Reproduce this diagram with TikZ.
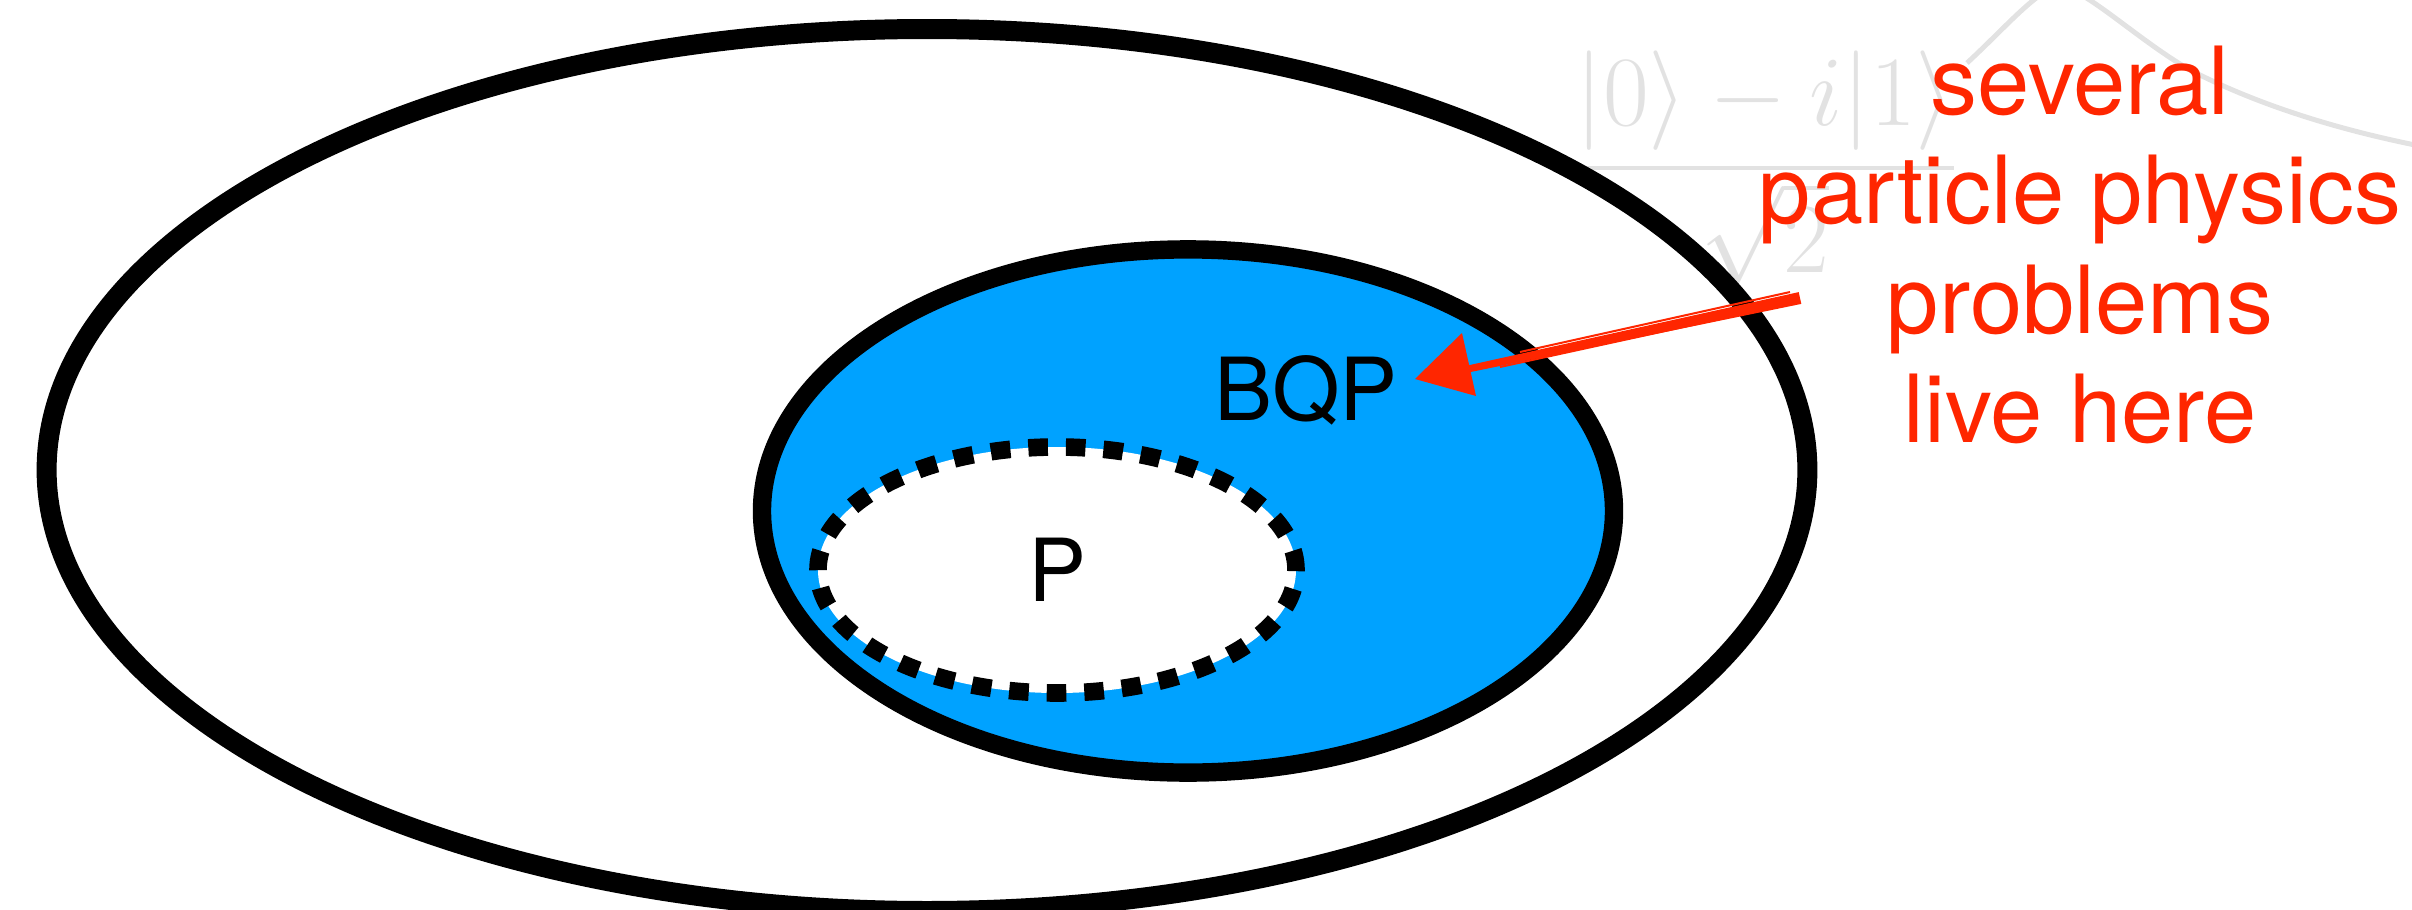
\documentclass[tikz,border=0pt]{standalone}
\usepackage{amsmath}
\usepackage[no-math]{fontspec}
\setmainfont{TeX Gyre Heros}
\definecolor{qblue}{RGB}{0,162,255}
\definecolor{qred}{RGB}{255,38,0}
\definecolor{ghostgray}{RGB}{226,226,226}
\tikzset{
  setline/.style={draw=black, line width=5pt},
  bqpline/.style={draw=black, line width=4.6pt, fill=qblue},
  pline/.style={draw=black, line width=4.4pt, dash pattern=on 4.9pt off 4.5pt, line cap=butt},
  classlabel/.style={inner sep=0pt, font=\fontsize{21.75pt}{26pt}\selectfont, text=black},
  notetext/.style={inner sep=0pt, anchor=base, font=\fontsize{23.5pt}{27.4pt}\selectfont, text=qred},
  ghosttext/.style={inner sep=0pt, anchor=base, text=ghostgray, font=\fontsize{26.5pt}{32pt}\selectfont},
}
\begin{document}
\begin{tikzpicture}[x=0.25pt,y=-0.25pt]
\useasboundingbox (0,0) rectangle (2412,910);
\begin{scope}
\clip (0,0) rectangle (2412,910);
% faint background remnants
\node[ghosttext] (ghost) at (1765,193) {$\dfrac{|0\rangle - i|1\rangle}{\sqrt{2}}$};
\draw[ghostgray, line width=1.25pt] (1967,63) .. controls (2005,28) and (2035,-8) .. (2058,-14)
  .. controls (2085,-12) and (2135,38) .. (2190,70)
  .. controls (2260,106) and (2340,130) .. (2420,146);
% outer set
\draw[setline] (927,470) ellipse [x radius=220.1pt, y radius=110.25pt];
\end{scope}
% BQP
\draw[bqpline] (1188,511) ellipse [x radius=106.5pt, y radius=65.4pt];
% P
\fill[white] (1057,570) ellipse [x radius=59.75pt, y radius=30.75pt];
\draw[pline] (1057,570) ellipse [x radius=59.75pt, y radius=30.75pt];
\node[classlabel] (P) at (1058,570) {P};
\node[classlabel] (BQP) at (1306,390) {BQP};
% note
\node[notetext] (l1) at (2080,114) {several};
\node[notetext] (l2) at (2080,223) {particle physics};
\node[notetext] (l3) at (2080,333) {problems};
\node[notetext] (l4) at (2080,442) {live here};
% arrow
\coordinate (arrowtail) at (1800,298);
\coordinate (arrowjoin) at (1468,369);
\coordinate (arrowtip) at (1415,379);
\fill[qred] (1801.3,303.9) -- (1798.7,292.1) -- (1467.2,365.6) -- (1468.8,372.4) -- cycle;
\draw[qred, line width=0.5pt] (1790,292) -- (1520,352);
\draw[qred, line width=0.5pt] (1780,306) -- (1500,367);
\fill[qred] (arrowtip) -- (1462,333) -- (1476,396) -- cycle;
\end{tikzpicture}
\end{document}
